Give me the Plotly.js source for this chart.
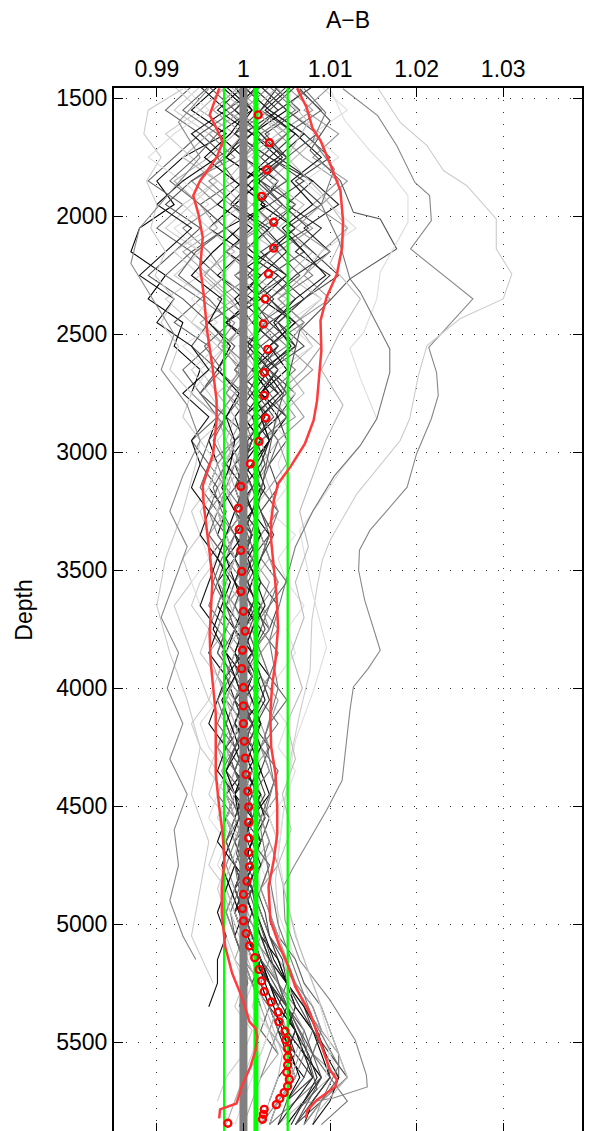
<!DOCTYPE html>
<html><head><meta charset="utf-8">
<script src="https://cdn.plot.ly/plotly-3.0.1.min.js"></script>
<style>
html,body{margin:0;padding:0;background:#fff;overflow:hidden}
#wrap{width:606px;height:1131px;overflow:hidden;position:relative}
#chart{width:606px;height:1132px}
</style>
</head><body><div id="wrap"><div id="chart"></div></div>
<script>
// ---- tick labels / axis values ----
const xTickValues = [0.99, 1, 1.01, 1.02, 1.03];
const xTickLabels = ['0.99', '1', '1.01', '1.02', '1.03'];
const yTickValues = [1500, 2000, 2500, 3000, 3500, 4000, 4500, 5000, 5500];
const yTickLabels = ['1500', '2000', '2500', '3000', '3500', '4000', '4500', '5000', '5500'];

// ---- common depth grid for the profiles ----
const depthGrid = [1450,1550,1650,1750,1850,1950,2050,2150,2250,2350,2450,2550,2650,2750,2850,2950,
  3050,3150,3250,3350,3450,3550,3650,3750,3850,3950,4050,4150,4250,4350,4450,4550,4650,4750,4850,4950,
  5050,5150,5250,5350,5450,5550,5650,5750,5850];

// ---- individual profiles (A-B ratio) ----
const profile01 = [0.997,0.994,0.998,0.993,0.990,0.992,0.988,0.987,0.991,0.989,0.993,0.992,0.995,0.994,0.997,0.996,
  0.997,0.996,0.998,0.997,0.999,0.998,0.997,0.999,0.998,1.000,0.999,0.998,0.999,1.000,0.998,0.999,1.000,1.001,1.000,0.999,
  1.000,1.001,1.003,1.004,1.006,1.005,1.007,null,null];
const profile02 = [1.004,1.002,1.006,1.003,1.008,1.005,1.009,1.006,1.010,1.007,1.004,1.006,1.003,1.005,1.002,1.003,
  1.001,1.002,1.000,1.001,0.999,1.000,1.002,1.001,1.000,1.001,0.999,1.000,1.001,1.002,1.000,1.001,1.002,1.001,0.999,1.000,
  1.001,1.002,1.003,1.005,1.004,1.006,1.008,1.005,null];
const profile03 = [1.000,1.003,0.999,1.002,1.005,1.001,1.004,1.007,1.003,1.006,1.002,1.005,1.001,1.003,1.000,1.001,
  0.999,0.998,1.000,0.999,1.001,1.000,0.998,0.999,1.001,1.000,1.002,1.001,1.000,0.999,1.001,1.002,1.001,1.000,1.001,1.000,
  1.002,1.003,1.002,1.004,1.006,1.007,1.009,1.006,1.003];
const profile04 = [1.007,1.005,1.009,1.006,1.003,1.007,1.004,1.008,1.005,1.009,1.006,1.008,1.005,1.007,1.004,1.003,
  1.002,1.000,1.001,0.999,1.000,1.001,0.999,1.000,1.002,1.001,1.000,0.999,1.001,1.000,0.999,1.000,1.001,1.002,1.001,1.000,
  1.001,1.003,1.004,1.006,1.005,1.008,1.010,1.007,1.004];
const profile05 = [0.999,1.001,0.997,1.000,1.004,1.002,1.006,1.003,0.999,1.002,0.998,1.001,1.004,1.002,1.005,1.003,
  1.001,0.999,1.000,0.998,0.999,0.997,0.998,1.000,0.999,1.001,1.000,0.999,1.000,1.001,1.000,1.002,1.001,1.000,0.999,1.000,
  0.999,1.000,1.001,1.002,null,null,null,null,null];
const profile06 = [1.002,0.998,1.001,0.997,0.999,0.995,0.998,0.994,0.997,1.000,0.996,0.999,0.997,1.000,0.998,1.001,
  1.000,0.999,0.997,0.998,0.996,0.997,0.999,0.998,0.997,0.999,0.998,1.000,0.999,0.998,1.000,0.999,0.998,0.999,1.000,1.001,
  1.002,1.003,1.005,1.004,1.003,1.005,null,null,null];
const profile07 = [1.005,1.008,1.004,1.007,1.011,1.008,1.012,1.009,1.007,1.010,1.006,1.009,1.007,1.004,1.006,1.002,
  1.003,1.001,1.002,1.000,1.001,1.003,1.002,1.004,1.002,1.003,1.001,1.002,1.003,1.001,1.002,1.003,1.004,1.002,1.001,1.002,
  1.003,1.004,1.006,1.007,1.009,1.008,1.011,1.009,1.008];
const profile08 = [0.995,0.992,0.996,0.993,0.997,0.994,0.991,0.995,0.992,0.996,0.994,0.998,0.995,0.997,0.999,0.997,
  0.998,0.997,0.995,0.996,0.997,0.995,0.994,0.996,0.995,0.997,0.996,0.998,0.997,0.996,0.998,0.997,0.999,0.998,0.997,0.998,
  0.999,1.000,1.001,1.000,1.002,1.001,1.000,0.999,null];
const profile09 = [1.001,1.004,1.000,0.998,1.002,0.999,1.003,1.000,1.004,1.001,0.998,1.001,0.999,1.002,1.000,1.002,
  0.999,1.000,1.001,0.999,1.000,1.002,1.001,0.999,1.000,0.998,0.999,1.001,1.000,0.999,1.001,1.000,1.002,1.001,1.000,1.001,
  1.000,1.002,1.001,1.003,1.005,1.006,1.004,1.003,null];
const profile10 = [1.003,1.000,0.996,0.999,0.994,0.997,0.993,0.996,0.998,0.995,0.999,0.997,1.000,0.998,1.001,0.999,
  0.996,0.998,0.997,0.999,0.998,1.000,0.999,0.998,1.000,0.999,1.001,1.000,0.999,0.998,0.999,1.000,0.999,1.000,1.001,1.000,
  1.001,1.003,1.004,1.006,1.008,1.007,1.006,1.004,1.002];
const profile11 = [1.006,1.003,1.007,1.010,1.006,1.009,1.005,1.008,1.011,1.007,1.004,1.007,1.003,1.006,1.004,1.005,
  1.003,1.004,1.002,1.003,1.001,1.002,1.004,1.003,1.001,1.002,1.000,1.001,1.003,1.002,1.001,1.003,1.002,1.000,1.001,1.002,
  1.003,1.004,1.005,1.007,1.008,1.010,1.012,1.009,1.006];
const profile12 = [0.998,0.995,0.999,0.996,0.992,0.995,0.997,0.993,0.996,0.999,0.995,0.998,0.996,0.999,0.997,0.998,
  0.999,0.997,0.998,0.996,0.998,0.997,0.999,0.998,0.996,0.997,0.998,0.999,0.997,0.998,0.999,0.998,1.000,0.999,0.998,0.999,
  1.000,0.999,1.001,1.002,1.003,1.002,1.000,0.999,0.998];
const profile13 = [1.002,1.005,1.001,1.004,1.000,1.003,0.998,1.001,1.005,1.002,1.006,1.003,1.005,1.002,1.004,1.001,
  1.000,1.002,1.001,1.003,1.002,1.001,1.000,1.002,1.001,1.003,1.002,1.000,1.001,1.002,1.003,1.001,1.000,0.999,1.000,1.001,
  1.002,1.004,1.005,1.006,1.008,1.009,1.010,1.008,1.007];
const profile14 = [0.994,0.991,0.995,0.992,0.989,0.993,0.990,0.994,0.991,0.995,0.992,0.996,0.993,0.995,0.997,0.994,
  0.996,0.995,0.997,0.996,0.998,0.997,0.996,0.998,0.997,0.999,0.998,0.997,0.999,0.998,0.997,0.999,0.998,0.999,1.000,0.999,
  1.000,1.001,1.002,1.003,1.002,1.004,null,null,null];
const profile15 = [1.009,1.012,1.008,1.011,1.007,1.010,1.013,1.009,1.006,1.009,1.005,1.008,1.004,1.006,1.003,1.005,
  1.004,1.005,1.003,1.006,1.004,1.005,1.007,1.005,1.006,1.004,1.003,1.005,1.004,1.006,1.005,1.003,1.004,1.002,1.003,1.004,
  1.005,1.006,1.007,1.008,1.009,1.010,1.011,1.009,1.007];
const profile16 = [1.000,0.997,1.001,0.998,1.002,0.999,0.996,1.000,0.997,1.001,0.998,1.002,0.999,1.001,0.999,1.000,
  0.998,1.000,0.999,1.001,1.000,0.999,1.001,1.000,0.999,1.000,1.001,1.002,1.000,1.001,0.999,1.000,1.001,1.000,0.999,0.998,
  0.999,1.000,1.002,1.003,1.004,1.005,1.006,1.004,1.003];
const profile17 = [1.004,1.001,1.005,1.002,0.999,1.003,1.000,1.004,1.001,1.005,1.002,1.004,1.001,1.003,1.002,1.004,
  1.002,1.003,1.001,1.002,1.003,1.001,1.002,1.000,1.001,1.002,1.003,1.001,1.002,1.000,1.001,1.002,1.003,1.001,1.002,1.001,
  1.002,1.003,1.004,1.005,1.007,1.006,1.005,null,null];
const profile18 = [0.996,0.999,0.995,0.998,0.994,0.991,0.995,0.992,0.989,0.993,0.996,0.994,0.997,0.995,0.998,0.996,
  0.995,0.997,0.996,0.998,0.997,0.999,0.998,0.997,0.999,0.998,1.000,0.999,0.998,1.000,0.999,0.998,0.999,1.000,0.999,1.000,
  1.001,1.002,1.004,1.005,1.007,1.008,1.007,1.005,1.004];
const profile19 = [1.001,0.998,1.002,1.005,1.001,1.004,1.008,1.004,1.001,1.003,1.000,1.002,0.999,1.001,1.003,1.000,
  0.999,1.001,1.000,1.002,1.001,0.999,1.000,1.001,1.002,1.000,0.999,1.000,1.002,1.001,1.000,1.002,1.001,1.003,1.002,1.001,
  1.002,1.001,1.003,1.004,1.005,1.007,1.008,1.006,null];
const profile20 = [1.008,1.004,1.001,1.005,1.002,1.006,1.003,1.000,1.004,1.007,1.003,1.006,1.002,1.004,1.001,1.002,
  1.001,0.999,1.000,1.002,1.000,0.999,1.001,0.999,1.000,1.001,0.999,1.000,0.998,0.999,1.000,0.999,1.000,1.001,1.000,0.999,
  1.000,1.002,1.003,1.005,1.006,1.005,null,null,null];
const profile21 = [0.992,0.995,0.991,0.994,0.997,0.993,0.996,0.992,0.995,0.991,0.994,0.997,0.994,0.996,0.998,0.995,
  0.997,0.996,0.994,0.995,0.993,0.994,0.992,0.993,0.994,0.995,0.996,0.994,0.995,0.997,0.996,0.998,0.997,0.996,0.998,0.997,
  0.998,0.999,1.000,0.999,1.001,1.000,0.998,0.997,null];
const profile22 = [0.998,1.001,0.999,1.003,1.000,0.997,1.001,0.998,1.002,0.999,1.001,1.004,1.001,1.003,1.000,1.002,
  1.000,1.001,0.999,1.000,0.998,0.999,1.000,0.999,1.001,0.999,1.000,0.999,1.001,1.000,0.999,1.001,1.000,0.999,1.001,1.000,
  1.001,1.002,1.003,1.004,1.006,1.007,1.009,1.007,1.005];
const profile23 = [1.003,1.006,1.002,1.000,1.003,1.006,1.002,1.005,1.008,1.004,1.007,1.003,1.006,1.003,1.005,1.002,
  1.001,1.002,1.004,1.003,1.002,1.004,1.003,1.001,1.002,1.003,1.002,1.004,1.002,1.003,1.001,1.002,1.003,1.002,1.001,1.002,
  1.003,1.005,1.006,1.008,1.009,1.008,1.010,1.012,1.009];
const profile24 = [0.999,1.002,1.005,1.001,1.004,1.001,0.998,1.002,0.999,1.003,1.000,0.998,1.001,0.999,1.001,0.999,
  0.998,0.999,1.000,0.998,0.999,1.000,0.998,0.997,0.999,0.998,1.000,0.999,0.998,0.999,1.000,0.998,0.999,1.000,1.001,1.000,
  1.001,1.000,1.002,1.001,1.003,1.004,1.002,1.001,1.000];
const profile25 = [1.005,1.002,0.999,1.003,1.007,1.003,1.006,1.002,1.005,1.001,1.003,1.000,1.002,0.999,1.002,0.999,
  0.998,1.000,0.999,1.001,1.000,1.002,1.001,1.003,1.001,1.002,1.000,1.001,0.999,1.000,1.002,1.001,0.999,1.000,1.001,0.999,
  1.000,1.001,1.003,1.005,1.006,null,null,null,null];
const profile26 = [0.993,0.996,0.992,0.989,0.993,0.996,0.992,0.995,0.998,0.994,0.997,0.993,0.996,0.994,0.997,0.999,
  0.998,0.996,0.997,0.995,0.996,0.994,0.995,0.997,0.996,0.998,0.997,0.995,0.996,0.998,0.997,0.996,0.998,0.997,0.999,0.998,
  0.999,1.001,1.002,1.001,1.003,1.002,1.001,1.000,0.999];
const profile27 = [1.000,1.003,1.007,1.004,1.008,1.011,1.007,1.010,1.006,1.003,1.006,1.003,1.001,1.004,1.001,1.003,
  1.002,1.000,1.001,0.999,1.001,1.000,1.002,1.000,1.001,0.999,1.000,1.002,1.001,1.000,1.002,1.000,1.001,1.002,1.000,1.001,
  1.002,1.003,1.005,1.006,1.005,1.007,1.008,1.006,1.004];
const profile28 = [1.002,0.999,1.003,1.000,0.996,0.999,1.002,0.998,1.001,0.997,1.000,0.998,1.001,0.999,0.997,0.999,
  0.997,0.998,0.996,0.997,0.999,0.998,0.997,0.996,0.998,0.997,0.999,0.998,0.997,0.999,0.998,1.000,0.999,0.998,0.999,0.998,
  0.999,1.000,1.001,1.003,1.004,1.003,1.002,null,null];
const profile29 = [1.006,1.009,1.005,1.002,1.005,1.001,1.004,1.007,1.003,1.000,1.004,1.001,1.003,1.005,1.002,1.004,
  1.003,1.002,1.004,1.002,1.003,1.005,1.003,1.002,1.004,1.003,1.005,1.003,1.002,1.004,1.003,1.002,1.001,1.003,1.002,1.003,
  1.004,1.006,1.007,1.009,1.010,1.011,1.011,1.009,1.007];
const profile30 = [0.997,1.000,0.996,0.993,0.997,1.000,0.996,0.999,0.995,0.998,1.001,0.998,1.000,0.997,0.999,0.998,
  1.000,0.998,0.999,1.000,0.999,0.998,1.000,1.001,1.000,0.999,0.998,0.999,1.000,0.999,0.998,0.999,1.000,0.999,0.998,0.999,
  1.000,1.001,1.002,1.004,1.003,1.005,1.006,1.004,1.003];
const profile31 = [0.995,0.998,0.994,0.997,0.993,0.990,0.994,0.991,0.988,0.992,0.990,0.994,0.996,0.993,0.996,0.994,
  0.995,0.994,0.996,0.995,0.997,0.996,0.995,0.997,0.996,0.998,0.997,0.996,0.998,0.997,0.999,0.998,0.997,0.999,0.998,0.997,
  0.998,0.997,0.997,0.996,null,null,null,null,null];
const profile32 = [1.010,1.007,1.011,1.008,1.012,1.009,1.006,1.010,1.007,1.004,1.007,1.005,1.008,1.005,1.007,1.004,
  1.005,1.003,1.004,1.002,1.003,1.004,1.002,1.003,1.001,1.002,1.004,1.003,1.002,1.003,1.004,1.002,1.003,1.004,1.002,1.003,
  1.004,1.005,1.006,1.008,1.009,1.011,1.012,1.009,1.007];
const profile33 = [0.9975,1.0005,0.9985,0.9955,0.9990,1.0025,0.9995,0.9965,0.9940,0.9975,0.9960,0.9985,0.9970,0.9995,0.9980,0.9990,
  0.9985,0.9975,0.9990,0.9980,0.9970,0.9985,0.9975,0.9965,0.9980,0.9990,0.9975,0.9985,0.9995,0.9980,0.9990,0.9995,0.9985,0.9975,0.9985,0.9995,
  1.0005,1.0015,1.0025,1.0035,1.0045,1.0055,1.0065,1.0050,null];
const profile34 = [1.0035,1.0065,1.0025,1.0050,1.0015,1.0045,1.0075,1.0030,1.0005,1.0035,1.0010,1.0040,1.0020,1.0005,1.0030,1.0015,
  1.0025,1.0010,1.0020,1.0035,1.0020,1.0005,1.0015,1.0025,1.0010,1.0020,1.0030,1.0015,1.0005,1.0015,1.0025,1.0010,1.0020,1.0005,1.0015,1.0025,
  1.0030,1.0045,1.0050,1.0065,1.0080,1.0095,1.0100,1.0080,1.0060];
const profile35 = [0.9960,0.9930,0.9970,0.9945,0.9915,0.9950,0.9980,0.9945,0.9925,0.9960,0.9985,0.9955,0.9975,0.9950,0.9980,0.9965,
  0.9980,0.9965,0.9975,0.9990,0.9975,0.9965,0.9980,0.9990,0.9975,0.9985,0.9970,0.9980,0.9990,0.9975,0.9985,0.9995,0.9980,0.9990,0.9995,0.9985,
  0.9990,1.0000,1.0005,0.9995,null,null,null,null,null];
const profile36 = [1.0015,0.9990,1.0020,1.0045,1.0010,0.9985,1.0025,1.0050,1.0020,0.9995,1.0025,1.0005,1.0030,1.0010,1.0025,1.0005,
  1.0005,0.9995,1.0010,1.0000,0.9990,1.0005,1.0015,1.0000,0.9995,1.0010,1.0000,0.9990,1.0005,1.0015,1.0005,0.9995,1.0005,1.0015,1.0005,0.9995,
  1.0005,1.0015,1.0030,1.0045,1.0060,1.0075,1.0085,1.0070,1.0055];
const profile37 = [0.9995,0.9965,1.0000,0.9975,0.9950,0.9985,1.0015,0.9980,0.9955,0.9985,1.0005,0.9975,0.9995,0.9980,1.0000,0.9985,
  0.9995,1.0005,0.9990,1.0000,1.0010,0.9995,1.0005,0.9990,1.0000,1.0010,0.9995,1.0000,1.0010,0.9995,1.0005,1.0015,1.0000,1.0005,0.9995,1.0005,
  1.0015,1.0025,1.0040,1.0055,1.0070,1.0065,1.0055,1.0045,null];
const profile38 = [1.0055,1.0025,1.0060,1.0090,1.0055,1.0080,1.0045,1.0070,1.0095,1.0060,1.0035,1.0055,1.0025,1.0045,1.0020,1.0030,
  1.0015,1.0025,1.0010,1.0020,1.0005,1.0015,1.0025,1.0010,1.0000,1.0015,1.0025,1.0010,1.0020,1.0005,1.0015,1.0025,1.0010,1.0000,1.0010,1.0015,
  1.0025,1.0035,1.0050,1.0070,1.0085,1.0095,1.0110,1.0100,1.0080];
const profile39 = [0.9985,1.0015,1.0040,1.0005,0.9980,1.0010,1.0035,1.0000,0.9975,1.0005,1.0025,0.9995,1.0015,0.9990,1.0005,0.9995,
  0.9975,0.9985,0.9970,0.9980,0.9990,0.9975,0.9985,0.9995,0.9980,0.9970,0.9985,0.9995,0.9985,0.9975,0.9990,0.9980,0.9995,0.9985,0.9975,0.9985,
  0.9995,1.0005,1.0015,1.0025,1.0035,1.0045,1.0040,1.0030,1.0020];
const profile40 = [1.0020,1.0050,1.0085,1.0050,1.0020,1.0045,1.0015,1.0040,1.0065,1.0030,1.0055,1.0020,1.0040,1.0015,1.0035,1.0010,
  1.0000,1.0010,0.9995,1.0005,1.0015,1.0000,0.9990,1.0005,1.0015,1.0000,0.9995,1.0010,1.0000,0.9990,1.0005,1.0010,0.9995,1.0000,1.0010,1.0000,
  1.0010,1.0020,1.0035,1.0050,1.0065,1.0080,1.0090,1.0075,1.0060];

const gridProfiles = [profile01,profile02,profile03,profile04,profile05,profile06,profile07,profile08,
  profile09,profile10,profile11,profile12,profile13,profile14,profile15,profile16,
  profile17,profile18,profile19,profile20,profile21,profile22,profile23,profile24,
  profile25,profile26,profile27,profile28,profile29,profile30,profile31,profile32,
  profile33,profile34,profile35,profile36,profile37,profile38,profile39,profile40];
const gridProfileColors = ['#000000','#333333','#777777','#bbbbbb','#000000','#555555','#999999','#cccccc',
  '#222222','#888888','#444444','#aaaaaa','#000000','#666666','#dddddd','#111111',
  '#bbbbbb','#555555','#999999','#333333','#cccccc','#000000','#777777','#aaaaaa',
  '#444444','#dddddd','#222222','#888888','#666666','#bbbbbb','#111111','#999999',
  '#000000','#444444','#666666','#222222','#999999','#111111','#bbbbbb','#555555'];

// ---- profiles sampled at their own depths (outlying casts) ----
const outlierADepth = [1459,1573,1700,1856,1912,2018,2138,2350,2555,2661,2759,2858,3006,3148,3246,3331,3415,3500,3627,3741,3839,3917,3995,4093,4277,4390,4517,4659,4757,4842,4983,5153,5322,5491,5640,5690,5737,5762];
const outlierAValue = [1.0115,1.0155,1.0177,1.0198,1.0215,1.0217,1.0193,1.0265,1.0214,1.0223,1.0225,1.0217,1.0200,1.0189,1.0166,1.0146,1.0134,1.0133,1.0140,1.0150,1.0158,1.0144,1.0127,1.0123,1.0117,1.0114,1.0096,1.0073,1.0058,1.0046,1.0048,1.0065,1.0100,1.0129,1.0142,1.0143,1.0104,1.0065];
const outlierBDepth = [1460,1602,1700,1806,1870,2011,2138,2244,2350,2434,2548,2675,2858,2950,3176,3373,3458,3571,3712,3924,4108,4305,4559,4813,5067,5300];
const outlierBValue = [1.0156,1.0181,1.0212,1.0231,1.0258,1.0292,1.0292,1.0310,1.0300,1.0250,1.0212,1.0202,1.0192,1.0181,1.0131,1.0100,1.0091,1.0085,1.0079,1.0077,1.0065,1.0054,1.0045,1.0037,1.0042,1.0055];
const outlierCDepth = [1459,1594,1721,1849,1983,2011,2138,2265,2356,2484,2653,2865,3077,3288,3500,3700,3900,4100,4300,4500,4700,4900,5100,5300,5500,5700,5800];
const outlierCValue = [1.0065,1.0100,1.0077,1.0112,1.0127,1.0158,1.0177,1.0123,1.0100,1.0065,1.0054,1.0037,1.0025,1.0014,0.9995,1.0012,0.9990,1.0008,0.9985,1.0005,0.9992,1.0010,1.0028,1.0045,1.0070,1.0085,1.0060];
const outlierDDepth = [1459,1594,1721,1798,1912,2025,2237,2350,2491,2560,2687,2858,2971,3077,3205,3331,3585,3826,4009,4221,4475,4700,4900,5100,5300,5500,5650];
const outlierDValue = [1.0100,1.0117,1.0146,1.0166,1.0190,1.0190,1.0158,1.0154,1.0139,1.0123,1.0135,1.0154,1.0135,1.0112,1.0089,1.0065,1.0079,1.0096,1.0081,1.0060,1.0048,1.0040,1.0050,1.0065,1.0085,1.0100,1.0095];
const outlierEDepth = [1459,1600,1750,1900,2050,2200,2350,2500,2650,2800,2950,3100,3250,3400,3550,3700,3850,4000,4150,4300,4450,4600,4750,4900,5050,5200,5350,5500,5650,5800];
const outlierEValue = [1.0040,1.0075,1.0050,1.0090,1.0120,1.0100,1.0135,1.0110,1.0090,1.0115,1.0095,1.0080,1.0065,1.0075,1.0060,1.0070,1.0055,1.0068,1.0050,1.0060,1.0045,1.0055,1.0040,1.0050,1.0060,1.0075,1.0090,1.0105,1.0120,1.0085];
const outlierFDepth = [1459,1560,1680,1800,1950,2100,2265,2322,2562,2661,2858,2971,3100,3250,3400,3600,3800,4000,4200,4400,4600,4800,5000,5200,5400,5600,5750];
const outlierFValue = [1.0070,1.0095,1.0080,1.0105,1.0090,1.0110,1.0123,1.0135,1.0169,1.0169,1.0154,1.0135,1.0105,1.0080,1.0060,1.0045,1.0030,1.0040,1.0025,1.0035,1.0020,1.0030,1.0040,1.0060,1.0080,1.0110,1.0090];
const outlierGDepth = [1459,1550,1650,1750,1850,1950,2050,2150,2250,2350,2450,2550,2650,2750,2850,2950,3050,3250,3450,3650,3850,4050,4250,4450,4650,4850,5050,5250];
const outlierGValue = [0.9930,0.9890,0.9885,0.9905,0.9888,0.9900,0.9893,0.9910,0.9898,0.9920,0.9905,0.9925,0.9915,0.9940,0.9930,0.9950,0.9945,0.9930,0.9910,0.9900,0.9915,0.9935,0.9950,0.9940,0.9960,0.9950,0.9940,0.9965];
const outlierHDepth = [1459,1600,1750,1900,2050,2200,2350,2500,2650,2800,2950,3100,3250,3400,3550,3700,3850,4000,4150,4300,4450,4600,4750,4900,5050,5150];
const outlierHValue = [0.9960,0.9925,0.9950,0.9915,0.9880,0.9870,0.9895,0.9920,0.9905,0.9935,0.9950,0.9930,0.9915,0.9935,0.9920,0.9905,0.9925,0.9912,0.9930,0.9915,0.9935,0.9920,0.9925,0.9915,0.9930,0.9945];

const outlierDepths = [outlierADepth,outlierBDepth,outlierCDepth,outlierDDepth,outlierEDepth,outlierFDepth,outlierGDepth,outlierHDepth];
const outlierValues = [outlierAValue,outlierBValue,outlierCValue,outlierDValue,outlierEValue,outlierFValue,outlierGValue,outlierHValue];
const outlierColors = ['#888888','#cccccc','#555555','#dddddd','#bbbbbb','#777777','#cccccc','#888888'];

// ---- envelopes (red lines) ----
const lowerEnvelopeDepth = [1458,1570,1628,1686,1750,1849,1912,1990,2089,2216,2329,2484,2632,2781,2865,3006,3063,3141,3218,3345,3458,3557,3684,3769,3882,3995,4108,4249,4362,4503,4616,4729,4842,4955,5096,5209,5308,5378,5414,5442,5477,5534,5605,5689,5760,5785,5823];
const lowerEnvelopeValue = [0.9972,0.9961,0.9969,0.9976,0.9969,0.9950,0.9942,0.9948,0.9953,0.9950,0.9954,0.9958,0.9964,0.9969,0.9969,0.9965,0.9960,0.9953,0.9954,0.9958,0.9962,0.9964,0.9962,0.9961,0.9962,0.9965,0.9968,0.9968,0.9968,0.9972,0.9976,0.9978,0.9975,0.9975,0.9979,0.9987,0.9998,1.0004,1.0007,1.0014,1.0016,1.0014,1.0008,0.9998,0.9992,0.9973,0.9972];
const upperEnvelopeDepth = [1458,1538,1630,1679,1777,1891,2018,2131,2244,2343,2442,2569,2696,2781,2865,2964,3063,3133,3204,3289,3374,3487,3599,3741,3882,3995,4108,4249,4362,4503,4616,4729,4842,4983,5096,5181,5266,5378,5505,5618,5660,5689,5745,5788,5823];
const upperEnvelopeValue = [1.0062,1.0073,1.0080,1.0089,1.0100,1.0112,1.0115,1.0114,1.0108,1.0096,1.0089,1.0090,1.0087,1.0085,1.0081,1.0071,1.0054,1.0040,1.0035,1.0032,1.0032,1.0035,1.0038,1.0040,1.0037,1.0033,1.0031,1.0032,1.0037,1.0039,1.0039,1.0035,1.0029,1.0031,1.0042,1.0052,1.0060,1.0077,1.0089,1.0100,1.0108,1.0106,1.0085,1.0074,1.0072];

// ---- median markers (red circles) ----
const medianDepth = [1570,1688,1803,1915,2025,2135,2244,2350,2456,2564,2662,2759,2855,2954,3049,3145,3237,3327,3416,3505,3590,3674,3758,3839,3917,3997,4075,4150,4225,4296,4366,4437,4503,4569,4635,4696,4757,4818,4874,4934,4986,5040,5092,5142,5192,5241,5286,5330,5373,5414,5454,5491,5528,5563,5597,5628,5658,5687,5714,5739,5765,5785,5806,5827,5844];
const medianValue = [1.0017,1.0030,1.0027,1.0021,1.0035,1.0035,1.0029,1.0025,1.0023,1.0028,1.0024,1.0024,1.0026,1.0018,1.0008,0.9997,0.9994,0.9995,0.9997,0.9998,0.9997,1.0000,1.0002,0.9999,0.9998,1.0000,1.0000,1.0000,1.0001,1.0002,1.0003,1.0005,1.0006,1.0006,1.0006,1.0006,1.0007,1.0004,1.0000,0.9999,1.0000,1.0003,1.0007,1.0013,1.0018,1.0021,1.0024,1.0032,1.0040,1.0041,1.0048,1.0049,1.0051,1.0051,1.0051,1.0050,1.0053,1.0051,1.0047,1.0042,1.0038,1.0024,1.0023,1.0022,0.9982];

// ---- vertical reference lines ----
const referenceValue = 1;
const meanValue = 1.00144;
const meanMinusStd = 0.99777;
const meanPlusStd = 1.00511;
const fullDepthSpan = [1400, 5950];

const FONT = 'Liberation Sans, Arial, Helvetica, sans-serif';
const traces = [];
gridProfiles.forEach((vals, i) => {
  traces.push({x: vals, y: depthGrid, type: 'scatter', mode: 'lines',
    line: {color: gridProfileColors[i], width: 1.1}, hoverinfo: 'skip'});
});
outlierValues.forEach((vals, i) => {
  traces.push({x: vals, y: outlierDepths[i], type: 'scatter', mode: 'lines',
    line: {color: outlierColors[i], width: 1.1}, hoverinfo: 'skip'});
});
traces.push({x: [referenceValue, referenceValue], y: fullDepthSpan, mode: 'lines', line: {color: '#808080', width: 8}});
traces.push({x: [meanMinusStd, meanMinusStd], y: fullDepthSpan, mode: 'lines', line: {color: '#00ff00', width: 2.3}});
traces.push({x: [meanPlusStd, meanPlusStd], y: fullDepthSpan, mode: 'lines', line: {color: '#00ff00', width: 2.3}});
traces.push({x: [meanValue, meanValue], y: fullDepthSpan, mode: 'lines', line: {color: '#00ff00', width: 5}});
traces.push({x: lowerEnvelopeValue, y: lowerEnvelopeDepth, mode: 'lines', line: {color: '#ff3b3b', width: 2.5}});
traces.push({x: upperEnvelopeValue, y: upperEnvelopeDepth, mode: 'lines', line: {color: '#ff3b3b', width: 2.5}});
traces.push({x: medianValue, y: medianDepth, mode: 'markers',
  marker: {symbol: 'circle-open', size: 7, color: '#ff0000', line: {color: '#ff0000', width: 2.3}}});

const layout = {
  width: 606, height: 1132,
  margin: {l: 114, r: 24, t: 88, b: 0, pad: 0},
  paper_bgcolor: '#ffffff', plot_bgcolor: '#ffffff',
  showlegend: false, hovermode: false,
  font: {family: FONT, size: 23, color: '#000'},
  xaxis: {
    side: 'top', range: [0.98505, 1.0391], autorange: false,
    tickmode: 'array', tickvals: xTickValues, ticktext: xTickLabels,
    ticks: 'inside', ticklen: 9, tickwidth: 1, tickcolor: '#000',
    showline: true, linecolor: '#000', linewidth: 2, mirror: 'ticks',
    showgrid: true, gridcolor: '#333', gridwidth: 1, griddash: '1px,11px',
    zeroline: false, automargin: false,
    tickfont: {family: FONT, size: 23, color: '#000'},
    title: {text: 'A\u2212B', font: {family: FONT, size: 23, color: '#000'}, standoff: 21}
  },
  yaxis: {
    range: [5881, 1456], autorange: false,
    tickmode: 'array', tickvals: yTickValues, ticktext: yTickLabels,
    ticks: 'inside', ticklen: 9, tickwidth: 1, tickcolor: '#000',
    showline: true, linecolor: '#000', linewidth: 2, mirror: 'ticks',
    showgrid: true, gridcolor: '#333', gridwidth: 1, griddash: '1px,11px',
    zeroline: false, automargin: false,
    tickfont: {family: FONT, size: 23, color: '#000'},
    title: {text: 'Depth', font: {family: FONT, size: 23, color: '#000'}, standoff: 17}
  }
};
Plotly.newPlot('chart', traces, layout, {staticPlot: true, displayModeBar: false});
</script>
</body></html>
